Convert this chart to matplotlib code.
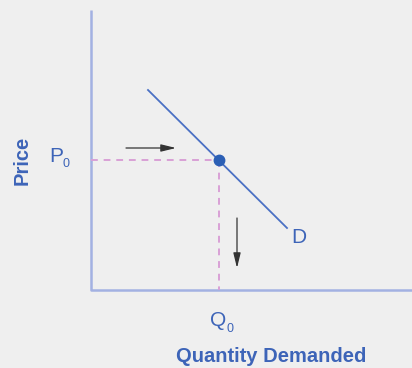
import matplotlib.pyplot as plt

# pixel-space coordinates of the sketch (y grows downward)
axis_x = [91, 91, 412]
axis_y = [10, 290, 290]
demand_x = [148, 287]
demand_y = [90, 228]
eq_x, eq_y = 219, 160
arrow_right = [(126, 148), (176, 148)]
arrow_down = [(237, 218), (237, 268)]

blue = '#3d64b8'
font = 'Liberation Sans'

fig = plt.figure(figsize=(4.12, 3.68), dpi=100)
fig.patch.set_facecolor('#efefef')
ax = fig.add_axes((0, 0, 1, 1))
ax.set_facecolor('#efefef')
ax.set_xlim(0, 412)
ax.set_ylim(368, 0)
ax.axis('off')

ax.plot(axis_x, axis_y, color='#a3b1e2', lw=1.8, solid_capstyle='butt')
ax.plot([axis_x[0], eq_x], [eq_y, eq_y], color='#d9a0d6', lw=1.4, ls=(0, (3.5, 3)))
ax.plot([eq_x, eq_x], [eq_y, axis_y[1]], color='#d9a0d6', lw=1.4, ls=(0, (3.5, 3)))
ax.plot(demand_x, demand_y, color='#4a70c4', lw=1.3)
ax.plot(eq_x, eq_y, 'o', color='#2b5fb5', ms=7.5)

for (x0, y0), (x1, y1) in [arrow_right, arrow_down]:
    ax.annotate('', xy=(x1, y1), xytext=(x0, y0),
                arrowprops=dict(arrowstyle='-|>,head_length=0.9,head_width=0.22',
                                color='#333333', lw=0.9,
                                mutation_scale=10, shrinkA=0, shrinkB=0))

# labels with hand-placed subscripts
ax.text(49, 162, 'P', color=blue, fontsize=15, va='baseline', ha='left', fontfamily=font)
ax.text(63, 167, '0', color=blue, fontsize=9, va='baseline', ha='left', fontfamily=font)
ax.text(210, 326, 'Q', color=blue, fontsize=15, va='baseline', ha='left', fontfamily=font)
ax.text(227, 332, '0', color=blue, fontsize=9, va='baseline', ha='left', fontfamily=font)
ax.text(291, 243, 'D', color=blue, fontsize=15, va='baseline', ha='left', fontfamily=font)
ax.text(22, 160, 'Price', color=blue, fontsize=14.5, fontweight='bold',
        rotation=90, va='center', ha='center', fontfamily=font)
ax.text(271, 356, 'Quantity Demanded', color=blue, fontsize=14.5,
        fontweight='bold', va='center', ha='center', fontfamily=font)

fig.savefig('out.png', dpi=100, facecolor=fig.get_facecolor())
